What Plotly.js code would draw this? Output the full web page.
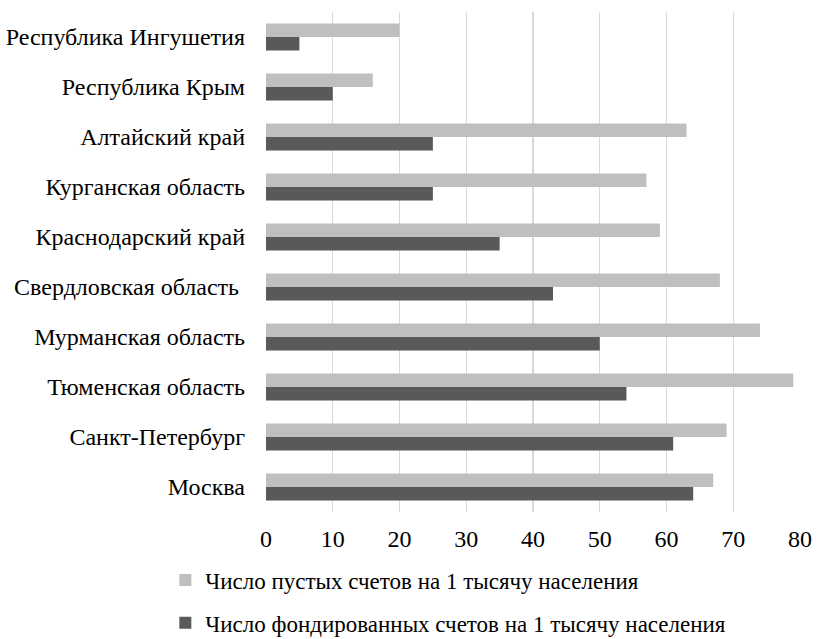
<!DOCTYPE html>
<html>
<head>
<meta charset="utf-8">
<script src="https://cdn.plot.ly/plotly-3.0.1.min.js"></script>
<style>html,body{margin:0;padding:0;background:#fff;}#chart{width:835px;height:639px;}</style>
</head>
<body>
<div id="chart"></div>
<script>
const regions = ["Республика Ингушетия","Республика Крым","Алтайский край","Курганская область","Краснодарский край","Свердловская область ","Мурманская область","Тюменская область","Санкт-Петербург","Москва"];
const emptyAccounts = [20,16,63,57,59,68,74,79,69,67];
const fundedAccounts = [5,10,25,25,35,43,50,54,61,64];
const seriesNames = ["Число пустых счетов на 1 тысячу населения","Число фондированных счетов на 1 тысячу населения"];
const xTicks = [0,10,20,30,40,50,60,70,80];

const font = {family: "Liberation Serif, Times New Roman, serif", size: 24, color: "#000"};
const legendFont = {family: "Liberation Serif, Times New Roman, serif", size: 23, color: "#000"};
const traces = [
  {type:"bar", orientation:"h", name:seriesNames[0], y:regions, x:emptyAccounts, marker:{color:"#bfbfbf"}, legendgroup:"a", hoverinfo:"x"},
  {type:"bar", orientation:"h", name:seriesNames[1], y:regions, x:fundedAccounts, marker:{color:"#595959"}, legendgroup:"b", hoverinfo:"x"}
];
const layout = {
  width:835, height:639,
  margin:{l:266, r:35, t:12, b:127, autoexpand:false},
  paper_bgcolor:"#fff", plot_bgcolor:"#fff",
  font:font,
  barmode:"group", bargap:0.46, bargroupgap:0,
  xaxis:{range:[0,80], tickvals:xTicks, tickangle:0, automargin:false, showgrid:true, gridcolor:"#d9d9d9", gridwidth:1.3, zeroline:false, showline:false, ticks:"", ticklabelstandoff:10, tickfont:font, fixedrange:true},
  yaxis:{type:"category", autorange:"reversed", automargin:false, showgrid:false, zeroline:false, showline:false, ticks:"", ticklabelstandoff:20, tickfont:font, fixedrange:true},
  showlegend:true,
  legend:{orientation:"v", xref:"container", yref:"container", x:0.198, y:0.126, xanchor:"left", yanchor:"top", traceorder:"grouped", tracegroupgap:10, font:legendFont, itemwidth:30, bgcolor:"rgba(0,0,0,0)"}
};
Plotly.newPlot("chart", traces, layout, {displayModeBar:false, staticPlot:true});
</script>
</body>
</html>
